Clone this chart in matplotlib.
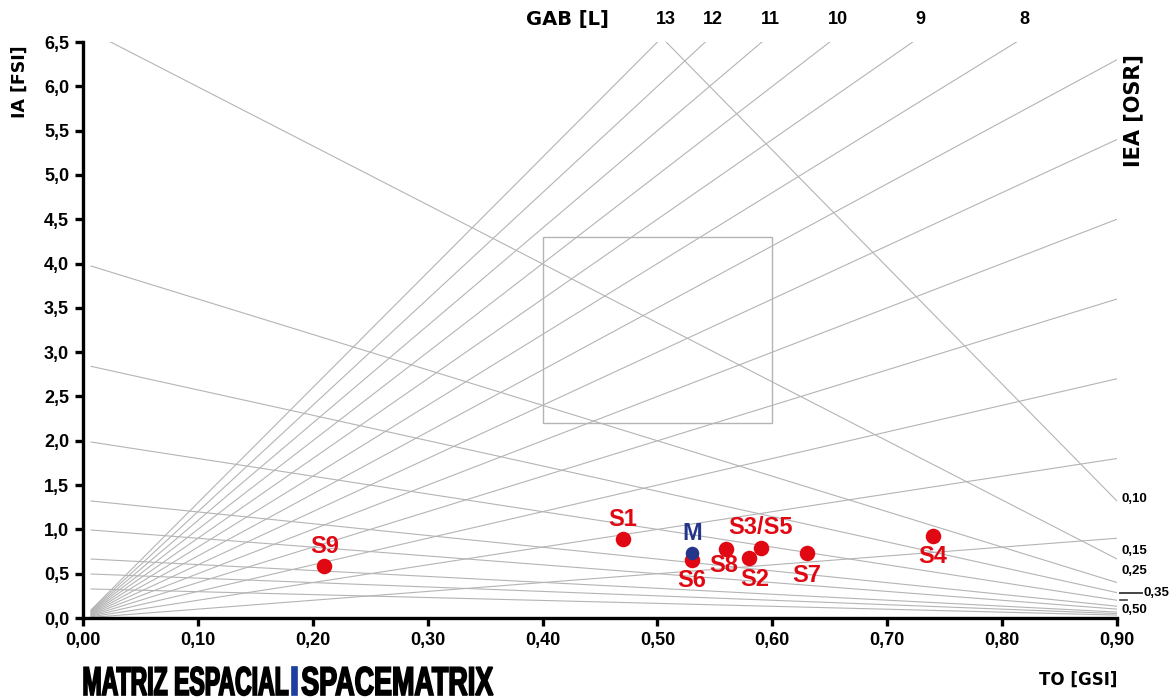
import matplotlib
matplotlib.use("Agg")
import matplotlib.pyplot as plt
from matplotlib.patches import Rectangle, PathPatch
from matplotlib.textpath import TextPath
from matplotlib.font_manager import FontProperties
from matplotlib.transforms import Affine2D

# ---------- data ----------

GSI_TICKS = [0.0, 0.1, 0.2, 0.3, 0.4, 0.5, 0.6, 0.7, 0.8, 0.9]
FSI_TICKS = [0.0, 0.5, 1.0, 1.5, 2.0, 2.5, 3.0, 3.5, 4.0, 4.5, 5.0, 5.5, 6.0, 6.5]

# layer lines (FSI = L * GSI)
L_VALUES = [13, 12, 11, 10, 9, 8, 7, 6, 5, 4, 3, 2, 1]
L_LABELS = ["13", "12", "11", "10", "9", "8"]

# open space ratio lines, FSI at GSI = 0 (they meet the GSI axis at 1)
OSR_INTERCEPTS = [13.2, 6.66, 4.0, 2.86, 2.0, 1.33, 1.0, 0.67, 0.5, 0.33]
OSR_LABELS = ["0,10", "0,15", "0,25", "0,35", "0,50"]

SITE_NAMES = ["S1", "S2", "S3/S5", "S4", "S6", "S7", "S8", "S9"]
SITE_GSI = [0.47, 0.58, 0.59, 0.74, 0.53, 0.63, 0.56, 0.21]
SITE_FSI = [0.89, 0.68, 0.79, 0.93, 0.66, 0.73, 0.78, 0.59]

MEAN_NAME = "M"
MEAN_GSI = [0.53]
MEAN_FSI = [0.73]

BOX_GSI = [0.40, 0.60]
BOX_FSI = [2.2, 4.3]

# label offsets in pixels (dx, dy) relative to the dot
SITE_OFFSETS = {
    "S1": (0, 20), "S2": (5, -22), "S3/S5": (0, 20), "S4": (0, -21),
    "S6": (0, -21), "S7": (0, -22), "S8": (-3, -17), "S9": (0, 19),
}

GRID_GRAY = "#b4b4b4"
RED = "#e00812"
NAVY = "#25358a"
NARROW = ["Liberation Sans", "DejaVu Sans"]

W, H = 1175, 698
fig = plt.figure(figsize=(W / 100, H / 100), dpi=100)
ax = fig.add_axes([83 / W, 1 - 618 / H, (1117 - 83) / W, (618 - 42) / H])

x0 = 0.007
x_max = GSI_TICKS[-1]
y_max = FSI_TICKS[-1]

# layer lines from the origin
for L in L_VALUES:
    x_end = min(x_max, y_max / L)
    ax.plot([x0, x_end], [L * x0, L * x_end], color=GRID_GRAY, lw=0.8, zorder=1)

# OSR lines
for c in OSR_INTERCEPTS:
    ax.plot([x0, x_max], [c * (1 - x0), c * (1 - x_max)], color=GRID_GRAY, lw=0.8, zorder=1)

ax.add_patch(Rectangle((BOX_GSI[0], BOX_FSI[0]), BOX_GSI[1] - BOX_GSI[0],
                       BOX_FSI[1] - BOX_FSI[0], fill=False, ec=GRID_GRAY, lw=1.0, zorder=1))

# sites
ax.scatter(SITE_GSI, SITE_FSI, s=125, color=RED, zorder=3, linewidths=0)
ax.scatter(MEAN_GSI, MEAN_FSI, s=95, color=NAVY, zorder=4, linewidths=0)

for name, gx, fy in zip(SITE_NAMES, SITE_GSI, SITE_FSI):
    dx, dy = SITE_OFFSETS[name]
    ax.annotate(name, (gx, fy), xytext=(dx * 0.72, dy * 0.72), textcoords="offset points",
                ha="center", va="center", color=RED, fontsize=17, fontweight="bold",
                family=NARROW, zorder=5)
ax.annotate(MEAN_NAME, (MEAN_GSI[0], MEAN_FSI[0]), xytext=(0, 20 * 0.72),
            textcoords="offset points", ha="center", va="center", color=NAVY,
            fontsize=17, fontweight="bold", family=NARROW, zorder=5)

# axes styling
ax.set_xlim(0, x_max)
ax.set_ylim(0, y_max)
for side in ("top", "right"):
    ax.spines[side].set_visible(False)
for side in ("left", "bottom"):
    ax.spines[side].set_linewidth(2.4)
ax.set_xticks(GSI_TICKS)
ax.set_yticks(FSI_TICKS)
ax.set_xticklabels([f"{v:.2f}".replace(".", ",") for v in GSI_TICKS])
ax.set_yticklabels([f"{v:.1f}".replace(".", ",") for v in FSI_TICKS])
ax.tick_params(width=2.4, length=6, labelsize=13, pad=4)
for lab in ax.get_xticklabels() + ax.get_yticklabels():
    lab.set_fontweight("bold")
    lab.set_family(NARROW)

# layer labels on top
for L, txt in zip(L_VALUES, L_LABELS):
    ax.annotate(txt, (y_max / L + 0.007, 6.75), ha="center", va="center", fontsize=13,
                fontweight="bold", family=NARROW, annotation_clip=False)
ax.annotate("GAB [L]", (0.422, 6.75), ha="center", va="center", fontsize=14,
            fontweight="bold", annotation_clip=False)

# OSR labels on the right
osr_dy = [2, 8, 12, 0, -10]
for c, txt, dy in zip(OSR_INTERCEPTS, OSR_LABELS, osr_dy):
    y_end = c * (1 - x_max)
    if txt == "0,35":
        ax.annotate(txt, (x_max, y_end), xytext=(27 * 0.72, 0), textcoords="offset points",
                    ha="left", va="center", fontsize=9.5, fontweight="bold", family=NARROW,
                    annotation_clip=False)
        ax.plot([x_max + 0.003, x_max + 0.022], [y_end, y_end], color="#444444",
                lw=1.4, clip_on=False)
    else:
        ax.annotate(txt, (x_max, y_end), xytext=(4 * 0.72, dy * 0.72),
                    textcoords="offset points", ha="left", va="center", fontsize=9.5,
                    fontweight="bold", family=NARROW, annotation_clip=False)
        if txt == "0,50":
            # small overline above the zero, as in the original
            ax.plot([x_max + 0.003, x_max + 0.009], [y_end, y_end], color="#444444",
                    lw=1.2, clip_on=False)

fig.text(1133 / W, 1 - 111 / H, "IEA [OSR]", rotation=90, ha="center", va="center",
         fontsize=15, fontweight="bold")
fig.text(20 / W, 1 - 82 / H, "IA [FSI]", rotation=90, ha="center", va="center",
         fontsize=12.5, fontweight="bold")
fig.text(1117 / W, 1 - 680 / H, "TO [GSI]", ha="right", va="center",
         fontsize=12, fontweight="bold")


# title block drawn as squeezed text paths (condensed heavy look)
def squeezed_text(txt, x_left, x_right, y_base, cap_h, color):
    prop = FontProperties(family="Liberation Sans", weight="bold")
    tp = TextPath((0, 0), txt, size=1, prop=prop)
    ext = tp.get_extents()
    sx = (x_right - x_left) / ext.width
    sy = cap_h / 0.72
    tr = Affine2D().translate(-ext.x0, 0).scale(sx, sy).translate(x_left, H - y_base)
    path = tr.transform_path(tp)
    patch = PathPatch(path, fc=color, ec=color, lw=1.2, transform=None)
    fig.patches.append(patch)
    patch.set_figure(fig)


squeezed_text("MATRIZ ESPACIAL", 84, 288, 695, 29, "black")
squeezed_text("I", 292, 297, 695, 29, "#1d3fa0")
squeezed_text("SPACEMATRIX", 302, 493, 695, 29, "black")

fig.savefig("out.png", dpi=100)
